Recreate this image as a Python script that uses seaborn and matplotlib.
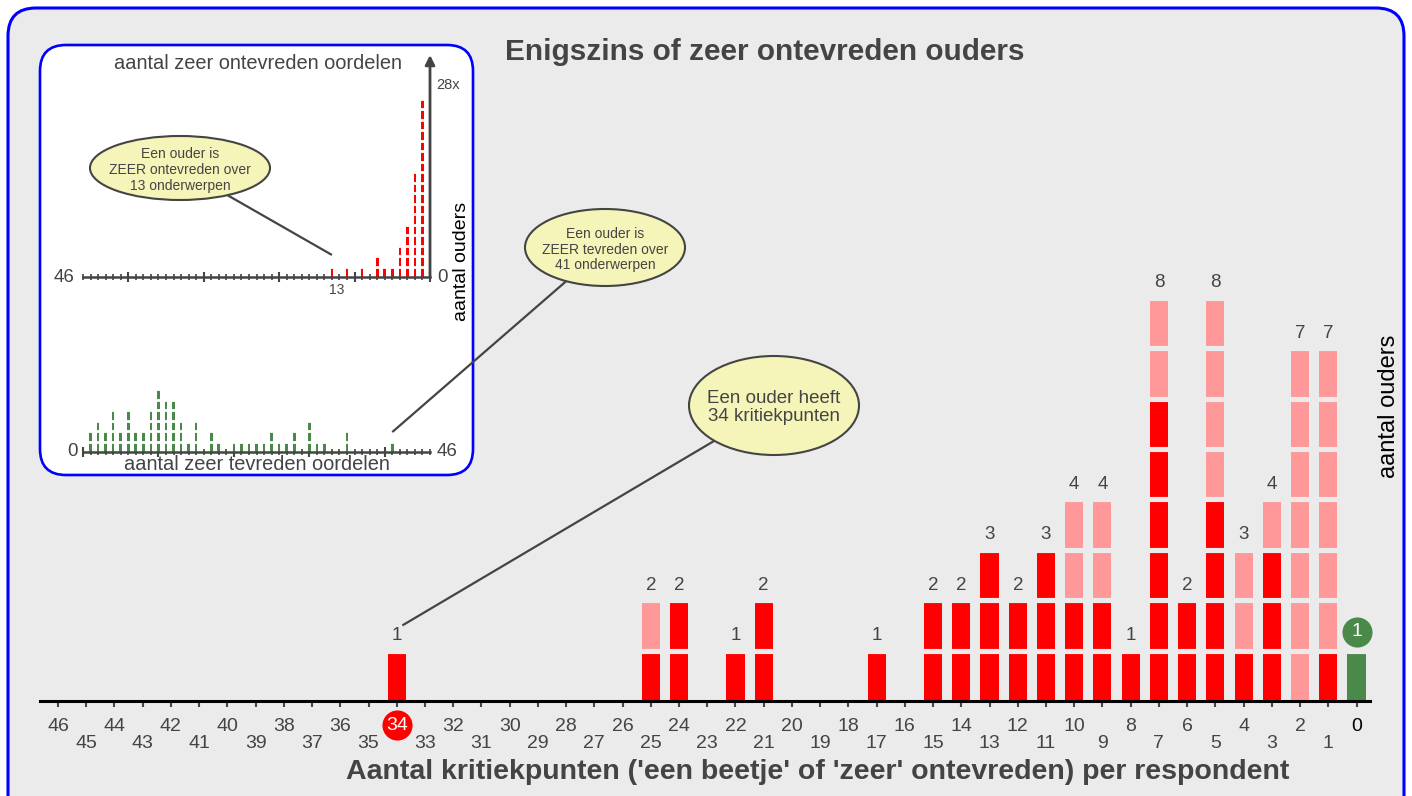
import pandas as pd
import seaborn as sns
import matplotlib.pyplot as plt
from matplotlib import font_manager
from matplotlib.patches import FancyBboxPatch, Ellipse


sns.set_theme(style='white', font='Liberation Sans')
plt.rcParams['font.family'] = ['Liberation Sans', 'DejaVu Sans']


# Hoofdgrafiek: aantal kritiekpunten per respondent
punten = [34, 25, 24, 22, 21, 17, 15, 14, 13, 12, 11, 10, 9, 8, 7, 6, 5, 4, 3, 2, 1, 0]
ouders = [1, 2, 2, 1, 2, 1, 2, 2, 3, 2, 3, 4, 4, 1, 8, 2, 8, 3, 4, 7, 7, 1]
ouders_zeer = [1, 1, 2, 1, 2, 1, 2, 2, 3, 2, 3, 2, 2, 1, 6, 2, 4, 1, 3, 0, 1, 0]  # met 'zeer ontevreden'

# Inzet boven: aantal zeer ontevreden oordelen
ontevr_n = [1, 2, 3, 4, 5, 6, 7, 9, 11, 13]
ontevr_ouders = [17, 10, 5, 3, 1, 1, 2, 1, 1, 1]
ontevr_nul = 28

# Inzet onder: aantal zeer tevreden oordelen
tevr_n = [1, 2, 3, 4, 5, 6, 7, 8, 9, 10, 11, 12, 13, 14, 15, 17, 18,
          20, 21, 22, 23, 24, 25, 26, 27, 28, 30, 31, 32, 35, 41]
tevr_ouders = [2, 3, 2, 4, 2, 4, 2, 2, 4, 6, 5, 5, 3, 1, 3, 2, 1,
               1, 1, 1, 1, 1, 2, 1, 1, 2, 3, 1, 1, 2, 1]

max_punten = 46

BG = '#ebebeb'
RED = '#ff0000'
PINK = '#ff9999'
GREEN = '#4b894b'
GREY = '#444444'
YELLOW = '#f5f5b9'
BLUE = '#0000ff'

W, H = 1412, 796
fig = plt.figure(figsize=(W / 100, H / 100), dpi=100, facecolor='white')


def px_axes(left, top, right, bottom, z):
    a = fig.add_axes([left / W, 1 - bottom / H, (right - left) / W, (bottom - top) / H], zorder=z)
    a.patch.set_alpha(0)
    return a


def to_px(a, x, y):
    X, Y = a.transData.transform((x, y))
    return X, H - Y


def pixel_layer(z):
    a = px_axes(0, 0, W, H, z)
    a.set_xlim(0, W)
    a.set_ylim(H, 0)
    a.axis('off')
    return a


# achtergrond met blauwe rand
bg = pixel_layer(0)
bg.add_patch(FancyBboxPatch((8, 8), W - 16, H + 20, boxstyle='round,pad=0,rounding_size=28',
                            fc=BG, ec=BLUE, lw=2.2))


### Hoofdgrafiek
UNIT = 50.4
ax = px_axes(40, 701 - 13.1 * UNIT, 1370, 701, 1)
df = pd.DataFrame({'punten': punten, 'ouders': ouders, 'zeer': ouders_zeer})

sns.barplot(data=df[df.punten > 0], x='punten', y='ouders', native_scale=True, width=0.64,
            color=PINK, saturation=1, linewidth=0, errorbar=None, ax=ax)
sns.barplot(data=df[df.zeer > 0], x='punten', y='zeer', native_scale=True, width=0.64,
            color=RED, saturation=1, linewidth=0, errorbar=None, ax=ax)
sns.barplot(data=df[df.punten == 0], x='punten', y='ouders', native_scale=True, width=0.64,
            color=GREEN, saturation=1, linewidth=0, errorbar=None, ax=ax)

x_left = max_punten + 18 / 28.23
x_right = -13.5 / 28.23
ax.hlines(range(1, max(ouders) + 1), x_left, x_right, colors=BG, lw=3.7, zorder=2)
ax.set_xlim(x_left, x_right)
ax.set_ylim(0, 13.1)
ax.set_xlabel('')
ax.set_ylabel('')
ax.set_yticks([])

for p, n in zip(punten, ouders):
    if p == 0:
        ax.scatter([p], [n + 0.37], s=470, color=GREEN, zorder=4, clip_on=False, linewidths=0)
        ax.text(p, n + 0.37, str(n), ha='center', va='center', fontsize=14, color='white', zorder=5)
    else:
        ax.text(p, n + 0.3, str(n), ha='center', va='center', fontsize=13.5, color=GREY, zorder=3)

even = list(range(0, max_punten + 1, 2))
odd = list(range(1, max_punten + 1, 2))
ax.set_xticks(even)
ax.set_xticklabels(['' if v == punten[0] else str(v) for v in even])
ax.set_xticks(odd, minor=True)
ax.set_xticklabels(['' if v == punten[0] else str(v) for v in odd], minor=True)
ax.tick_params(axis='x', which='both', bottom=True, direction='out', length=4.3, width=1.5,
               color=GREY, labelsize=14, labelcolor=GREY)
ax.tick_params(axis='x', which='major', pad=8)
ax.tick_params(axis='x', which='minor', pad=20)
t0 = ax.xaxis.get_major_ticks()[0]
t0.tick1line.set_color('black')
t0.label1.set_color('black')

for s in ['top', 'left', 'right']:
    ax.spines[s].set_visible(False)
ax.spines['bottom'].set_color('black')
ax.spines['bottom'].set_linewidth(2.2)

# rood bolletje bij het uitschieter-label
ax.scatter([punten[0]], [-24 / UNIT], s=470, color=RED, zorder=4, clip_on=False, linewidths=0)
ax.text(punten[0], -24 / UNIT, str(punten[0]), ha='center', va='center', fontsize=14,
        color='white', zorder=5, clip_on=False)


### Inzet
mid = pixel_layer(2)
mid.add_patch(FancyBboxPatch((40, 45), 433, 430, boxstyle='round,pad=0,rounding_size=26',
                             fc='white', ec=BLUE, lw=1.9))

IUNIT = 10.5
ax_o = px_axes(83, 55, 430, 277, 3)
sns.barplot(x=ontevr_n, y=ontevr_ouders, native_scale=True, width=0.35, color=RED,
            saturation=1, linewidth=0, errorbar=None, ax=ax_o)
ax_o.hlines(range(1, max(ontevr_ouders) + 1), max_punten, 0, colors='white', lw=2, zorder=2)
ax_o.set_xlim(max_punten, 0)
ax_o.set_ylim(0, 222 / IUNIT)
ax_o.annotate('', xy=(0, 222 / IUNIT), xytext=(0, 0), annotation_clip=False, zorder=6,
              arrowprops=dict(arrowstyle='-|>', color=GREY, lw=2, mutation_scale=14,
                              shrinkA=0, shrinkB=0))

ax_t = px_axes(83, 452 - 8 * IUNIT, 430, 452, 3)
sns.barplot(x=tevr_n, y=tevr_ouders, native_scale=True, width=0.35, color=GREEN,
            saturation=1, linewidth=0, errorbar=None, ax=ax_t)
ax_t.hlines(range(1, max(tevr_ouders) + 1), 0, max_punten, colors='white', lw=2, zorder=2)
ax_t.set_xlim(0, max_punten)
ax_t.set_ylim(0, 8)

for a in [ax_o, ax_t]:
    a.set_xlabel('')
    a.set_ylabel('')
    a.set_yticks([])
    a.set_xticks(range(0, max_punten + 1, 10))
    a.set_xticks(range(0, max_punten + 1), minor=True)
    a.tick_params(axis='x', which='both', bottom=True, direction='inout', color=GREY,
                  labelbottom=False)
    a.tick_params(axis='x', which='major', length=6.5, width=1.5)
    a.tick_params(axis='x', which='minor', length=4, width=1.2)
    for s in ['top', 'left', 'right']:
        a.spines[s].set_visible(False)
    a.spines['bottom'].set_color(GREY)
    a.spines['bottom'].set_linewidth(1.8)


### Teksten en ballonnen
top = pixel_layer(4)

top.text(765, 59.5, 'Enigszins of zeer ontevreden ouders', ha='center', va='baseline',
         fontsize=21.4, fontweight='bold', color=GREY)

names = {f.name for f in font_manager.fontManager.ttflist}
narrow = 'Liberation Sans Narrow' if 'Liberation Sans Narrow' in names else 'Liberation Sans'
xl = top.text(818, 779, "Aantal kritiekpunten ('een beetje' of 'zeer' ontevreden) per respondent",
              ha='center', va='baseline', fontsize=20.5, fontweight='bold', color=GREY,
              family=[narrow, 'DejaVu Sans'])
w = xl.get_window_extent(fig.canvas.get_renderer()).width
if w > 1000:
    xl.set_fontsize(20.5 * 996 / w)

top.text(1389, 406, 'aantal ouders', rotation=90, ha='center', va='center', fontsize=17, color='black')

# inzet-teksten
top.text(258, 69, 'aantal zeer ontevreden oordelen', ha='center', va='baseline', fontsize=14.4, color=GREY)
top.text(257, 470.5, 'aantal zeer tevreden oordelen', ha='center', va='baseline', fontsize=14.4, color=GREY)
top.text(448, 85, f'{ontevr_nul}x', ha='center', va='center', fontsize=10.5, color=GREY)
top.text(462, 261, 'aantal ouders', rotation=90, ha='center', va='center', fontsize=14, color='black')

x46, y0 = to_px(ax_o, max_punten, 0)
x0, _ = to_px(ax_o, 0, 0)
top.text(x46 - 19, y0, str(max_punten), ha='center', va='center', fontsize=13.5, color=GREY)
top.text(x0 + 12, y0, '0', ha='center', va='center', fontsize=13.5, color=GREY)
x13, _ = to_px(ax_o, 13, 0)
top.text(x13 + 5, y0 + 13, '13', ha='center', va='center', fontsize=10, color=GREY)

x0b, y0b = to_px(ax_t, 0, 0)
x46b, _ = to_px(ax_t, max_punten, 0)
top.text(x0b - 11, y0b, '0', ha='center', va='center', fontsize=13.5, color=GREY)
top.text(x46b + 17, y0b, str(max_punten), ha='center', va='center', fontsize=13.5, color=GREY)


def ballon(cx, cy, bw, bh, text, size, target):
    tx, ty = target
    top.plot([cx, tx], [cy, ty], color=GREY, lw=1.6, zorder=1, solid_capstyle='butt')
    top.add_patch(Ellipse((cx, cy), bw, bh, fc=YELLOW, ec=GREY, lw=1.5, zorder=2))
    top.text(cx, cy + 2, text, ha='center', va='center', fontsize=size, color=GREY,
             linespacing=1.15, zorder=3)


ballon(180, 168, 180, 64, 'Een ouder is\nZEER ontevreden over\n13 onderwerpen', 10,
       to_px(ax_o, 13, 2.1))
ballon(605, 247.5, 160, 77, 'Een ouder is\nZEER tevreden over\n41 onderwerpen', 10,
       to_px(ax_t, 41, 1.9))
ballon(774, 405.5, 170, 99, 'Een ouder heeft\n34 kritiekpunten', 13.5,
       to_px(ax, punten[0] - 0.2, ouders[0] + 0.5))

plt.savefig('out.png', dpi=100)
